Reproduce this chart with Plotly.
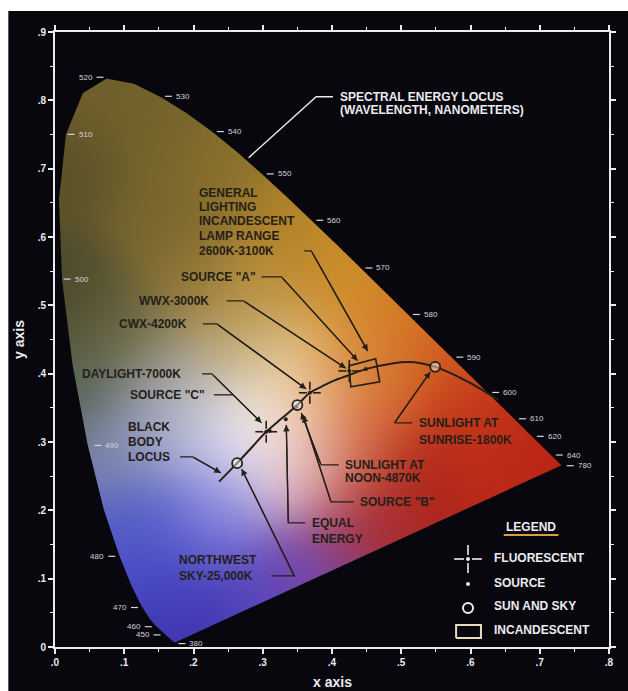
import numpy as np
import plotly.graph_objects as go

# ---------------------------------------------------------------- data
# CIE 1931 spectral locus: wavelength (nm) and chromaticity x, y
wavelengths = [380, 400, 420, 440, 450, 460, 465, 470, 475, 480, 485, 490, 495, 500,
               505, 510, 515, 520, 525, 530, 535, 540, 545, 550, 555, 560, 565, 570,
               575, 580, 585, 590, 595, 600, 605, 610, 620, 630, 640, 650, 700, 780]
locus_x = [0.1741, 0.1733, 0.1714, 0.1644, 0.1566, 0.1440, 0.1355, 0.1241, 0.1096, 0.0913,
           0.0687, 0.0454, 0.0235, 0.0082, 0.0039, 0.0139, 0.0389, 0.0743, 0.1142, 0.1547,
           0.1929, 0.2296, 0.2658, 0.3016, 0.3373, 0.3731, 0.4087, 0.4441, 0.4788, 0.5125,
           0.5448, 0.5752, 0.6029, 0.6270, 0.6482, 0.6658, 0.6915, 0.7079, 0.7190, 0.7260,
           0.7347, 0.7347]
locus_y = [0.0050, 0.0048, 0.0051, 0.0109, 0.0177, 0.0297, 0.0399, 0.0578, 0.0868, 0.1327,
           0.2007, 0.2950, 0.4127, 0.5384, 0.6548, 0.7502, 0.8120, 0.8338, 0.8262, 0.8059,
           0.7816, 0.7543, 0.7243, 0.6923, 0.6589, 0.6245, 0.5896, 0.5547, 0.5202, 0.4866,
           0.4544, 0.4242, 0.3965, 0.3725, 0.3514, 0.3340, 0.3083, 0.2920, 0.2809, 0.2740,
           0.2653, 0.2653]

# wavelengths annotated along the locus
labelled_wl = [380, 450, 460, 470, 480, 490, 500, 510, 520, 530, 540, 550, 560, 570,
               580, 590, 600, 610, 620, 640, 780]

# black body (Planckian) locus
bb_x = [0.237, 0.263, 0.285, 0.305, 0.328, 0.350, 0.368, 0.385, 0.401, 0.425, 0.450,
        0.487, 0.510, 0.530, 0.549, 0.575, 0.600, 0.622, 0.640]
bb_y = [0.242, 0.269, 0.293, 0.315, 0.335, 0.354, 0.372, 0.381, 0.389, 0.398, 0.407,
        0.415, 0.417, 0.415, 0.410, 0.399, 0.386, 0.373, 0.362]

# fluorescent lamps: daylight 7000K, CWX 4200K, WWX 3000K
fluor_names = ["DAYLIGHT-7000K", "CWX-4200K", "WWX-3000K"]
fluor_x = [0.305, 0.368, 0.425]
fluor_y = [0.315, 0.372, 0.404]

# standard sources A, B, C and equal energy E
source_names = ["A", "B", "C", "E"]
source_x = [0.4490, 0.3484, 0.3101, 0.3333]
source_y = [0.4070, 0.3516, 0.3162, 0.3333]

# sun and sky: northwest sky 25000K, noon 4870K, sunrise 1800K
sun_names = ["NW SKY 25000K", "NOON 4870K", "SUNRISE 1800K"]
sun_x = [0.263, 0.350, 0.549]
sun_y = [0.269, 0.354, 0.410]

# incandescent lamp range 2600K-3100K (corners)
lamp_x = [0.4244, 0.4631, 0.4688, 0.4272]
lamp_y = [0.4114, 0.4217, 0.3880, 0.3807]

# axis ticks
x_ticks = [0.0, 0.1, 0.2, 0.3, 0.4, 0.5, 0.6, 0.7, 0.8]
x_ticktext = [".0", ".1", ".2", ".3", ".4", ".5", ".6", ".7", ".8"]
y_ticks = [0.0, 0.1, 0.2, 0.3, 0.4, 0.5, 0.6, 0.7, 0.8, 0.9]
y_ticktext = ["0", ".1", ".2", ".3", ".4", ".5", ".6", ".7", ".8", ".9"]

# colour anchors for the painted gamut (x, y, r, g, b)
paint = [
    (0.07, 0.82, 112, 96, 44), (0.03, 0.70, 92, 82, 40), (0.15, 0.74, 118, 100, 44),
    (0.24, 0.69, 138, 112, 44), (0.33, 0.62, 178, 132, 42), (0.42, 0.55, 205, 140, 40),
    (0.50, 0.47, 212, 120, 35), (0.57, 0.41, 207, 85, 30), (0.63, 0.36, 197, 55, 25),
    (0.70, 0.29, 187, 36, 22), (0.60, 0.30, 190, 45, 25), (0.52, 0.25, 172, 36, 28),
    (0.44, 0.19, 165, 45, 55), (0.36, 0.12, 120, 70, 170), (0.28, 0.07, 85, 70, 190),
    (0.20, 0.04, 60, 50, 170), (0.16, 0.10, 70, 70, 195), (0.12, 0.18, 80, 90, 200),
    (0.22, 0.17, 110, 110, 215), (0.25, 0.23, 165, 165, 230), (0.09, 0.28, 120, 130, 170),
    (0.05, 0.38, 85, 98, 82), (0.03, 0.52, 75, 74, 44), (0.10, 0.47, 105, 100, 62),
    (0.16, 0.40, 150, 150, 135), (0.15, 0.32, 170, 175, 215), (0.22, 0.35, 210, 210, 230),
    (0.30, 0.32, 248, 248, 250), (0.33, 0.30, 245, 235, 240), (0.36, 0.25, 220, 170, 190),
    (0.40, 0.31, 225, 150, 110), (0.45, 0.30, 205, 80, 45), (0.37, 0.37, 235, 185, 130),
    (0.32, 0.41, 232, 215, 170), (0.25, 0.44, 185, 162, 112), (0.20, 0.53, 150, 120, 55),
    (0.15, 0.62, 120, 102, 46), (0.30, 0.50, 190, 145, 60), (0.42, 0.43, 215, 150, 60),
    (0.47, 0.38, 215, 110, 45),
]

# ---------------------------------------------------------------- geometry helpers
W, H = 628, 691
ML, MR, MT, MB = 55, 15, 32, 44
XR, YR = [0, 0.8], [0, 0.9]
PX = (XR[1] - XR[0]) / (W - ML - MR)   # data units per pixel, x
PY = (YR[1] - YR[0]) / (H - MT - MB)   # data units per pixel, y

BG = "#07070d"
DARK = "#251f1a"
LIGHT = "#ecebf0"
FONT = "Liberation Sans, Arial, sans-serif"


def inside_polygon(px, py, vx, vy):
    res = np.zeros(px.shape, dtype=bool)
    n = len(vx)
    j = n - 1
    for i in range(n):
        xi, yi, xj, yj = vx[i], vy[i], vx[j], vy[j]
        if yi != yj:
            cross = ((yi > py) != (yj > py)) & (px < (xj - xi) * (py - yi) / (yj - yi) + xi)
            res ^= cross
        j = i
    return res


# ---------------------------------------------------------------- gamut image
step = 0.002
gx = np.arange(0.0, 0.75, step)
gy = np.arange(0.0, 0.85, step)
GX, GY = np.meshgrid(gx, gy)

# supersampled coverage for soft edges
cover = np.zeros(GX.shape)
subs = [-step / 3, 0.0, step / 3]
for ox in subs:
    for oy in subs:
        cover += inside_polygon(GX + ox, GY + oy, locus_x, locus_y)
cover /= len(subs) ** 2

P = np.array(paint, dtype=float)
sigma = 0.052
d2 = (GX[..., None] - P[:, 0]) ** 2 + (GY[..., None] - P[:, 1]) ** 2
d2 -= d2.min(axis=2, keepdims=True)
wts = np.exp(-d2 / (2 * sigma ** 2))
rgb = np.einsum("hwn,nc->hwc", wts, P[:, 2:5]) / wts.sum(axis=2)[..., None]
rgb = np.clip(np.round(rgb), 0, 255).astype(int)

z = []
for r in range(GX.shape[0]):
    row = []
    for c in range(GX.shape[1]):
        a = cover[r, c]
        if a <= 0:
            row.append([0, 0, 0, 0])
        else:
            row.append([int(rgb[r, c, 0]), int(rgb[r, c, 1]), int(rgb[r, c, 2]),
                        1 if a >= 1 else round(float(a), 2)])
    z.append(row)

fig = go.Figure()
fig.add_trace(go.Image(z=z, colormodel="rgba", x0=0, dx=step, y0=0, dy=step, hoverinfo="skip"))

# background-coloured rim that trims the stepped image edge
fig.add_trace(go.Scatter(x=locus_x + [locus_x[0]], y=locus_y + [locus_y[0]], mode="lines",
                         line=dict(color=BG, width=2.6), hoverinfo="skip", showlegend=False))

# ---------------------------------------------------------------- wavelength ticks
left_side = {450, 460, 470, 480, 520}
tick_x, tick_y = [], []
annotations = []
for wl in labelled_wl:
    i = wavelengths.index(wl)
    lx, ly = locus_x[i], locus_y[i]
    sgn = -1 if wl in left_side else 1
    gap = 8 if wl == 490 else 3
    x0 = lx + sgn * gap * PX
    x1 = lx + sgn * (gap + 7) * PX
    tick_x += [x0, x1, None]
    tick_y += [ly, ly, None]
    annotations.append(dict(x=x1 + sgn * 2 * PX, y=ly, text=str(wl), showarrow=False,
                            xanchor="left" if sgn > 0 else "right", yanchor="middle",
                            font=dict(family=FONT, size=8, color="#d6d4d8")))
fig.add_trace(go.Scatter(x=tick_x, y=tick_y, mode="lines", hoverinfo="skip",
                         line=dict(color="#d6d4d8", width=1.2), showlegend=False))

# ---------------------------------------------------------------- black body locus
fig.add_trace(go.Scatter(x=bb_x, y=bb_y, mode="lines", line=dict(color=DARK, width=2, shape="spline"),
                         hoverinfo="skip", showlegend=False))


def fluorescent_glyph(cx, cy, r0, r1):
    xs, ys = [], []
    for dx, dy in [(1, 0), (-1, 0), (0, 1), (0, -1)]:
        xs += [cx + dx * r0 * PX, cx + dx * r1 * PX, None]
        ys += [cy + dy * r0 * PY, cy + dy * r1 * PY, None]
    return xs, ys


def add_fluorescent(xs_c, ys_c, color, r0, r1, dot):
    gxs, gys = [], []
    for cx, cy in zip(xs_c, ys_c):
        a, b = fluorescent_glyph(cx, cy, r0, r1)
        gxs += a
        gys += b
    fig.add_trace(go.Scatter(x=gxs, y=gys, mode="lines", line=dict(color=color, width=1.6),
                             hoverinfo="skip", showlegend=False))
    fig.add_trace(go.Scatter(x=xs_c, y=ys_c, mode="markers", hoverinfo="skip", showlegend=False,
                             marker=dict(symbol="circle", size=dot, color=color)))


add_fluorescent(fluor_x, fluor_y, DARK, 3, 11, 4)

# sources
fig.add_trace(go.Scatter(x=source_x, y=source_y, mode="markers", hoverinfo="skip", showlegend=False,
                         marker=dict(symbol="circle", size=4, color=DARK)))

# sun and sky
fig.add_trace(go.Scatter(x=sun_x, y=sun_y, mode="markers", hoverinfo="skip", showlegend=False,
                         marker=dict(symbol="circle", size=10, color="rgba(255,250,245,0.45)",
                                     line=dict(color=DARK, width=1.8))))

# incandescent range
fig.add_trace(go.Scatter(x=lamp_x + [lamp_x[0]], y=lamp_y + [lamp_y[0]], mode="lines",
                         line=dict(color=DARK, width=1.6), hoverinfo="skip", showlegend=False))

# ---------------------------------------------------------------- labels and leaders
dark_labels = [
    ("GENERAL", 0.2050, 0.6647), ("LIGHTING", 0.2050, 0.6442), ("INCANDESCENT", 0.2050, 0.6237),
    ("LAMP RANGE", 0.2050, 0.6018), ("2600K-3100K", 0.2050, 0.5798),
    ('SOURCE "A"', 0.1792, 0.5417), ("WWX-3000K", 0.1190, 0.5066), ("CWX-4200K", 0.0889, 0.4729),
    ("DAYLIGHT-7000K", 0.0358, 0.3997), ('SOURCE "C"', 0.1047, 0.3690),
    ("BLACK", 0.1032, 0.3221), ("BODY", 0.1032, 0.3001), ("LOCUS", 0.1032, 0.2782),
    ("NORTHWEST", 0.1763, 0.1274), ("SKY-25,000K", 0.1763, 0.1040),
    ("EQUAL", 0.3685, 0.1816), ("ENERGY", 0.3685, 0.1581),
    ("SUNLIGHT AT", 0.4158, 0.2665), ("NOON-4870K", 0.4158, 0.2474),
    ('SOURCE "B"', 0.4373, 0.2123),
    ("SUNLIGHT AT", 0.5233, 0.3280), ("SUNRISE-1800K", 0.5233, 0.3031),
]
for txt, x, y in dark_labels:
    annotations.append(dict(x=x, y=y, text=txt, showarrow=False, xanchor="left", yanchor="middle",
                            font=dict(family=FONT, size=12, color=DARK, weight="bold")))

leaders = [
    [(0.360, 0.5798), (0.370, 0.5798), (0.4516, 0.4330)],
    [(0.298, 0.5417), (0.327, 0.5417), (0.437, 0.4190)],
    [(0.248, 0.5066), (0.272, 0.5066), (0.420, 0.4080)],
    [(0.2136, 0.4729), (0.2337, 0.4729), (0.3627, 0.3777)],
    [(0.2122, 0.3997), (0.2265, 0.3997), (0.2982, 0.3280)],
    [(0.2294, 0.3690), (0.2572, 0.3690)],
    [(0.1806, 0.2782), (0.1989, 0.2782), (0.2394, 0.2548)],
    [(0.3126, 0.1040), (0.3455, 0.1040), (0.2695, 0.2606)],
    [(0.3613, 0.1816), (0.3369, 0.1816), (0.3340, 0.3250)],
    [(0.4100, 0.2665), (0.3842, 0.2665), (0.3556, 0.3426)],
    [(0.4315, 0.2123), (0.3986, 0.2123), (0.3584, 0.3382)],
    [(0.5161, 0.3280), (0.4903, 0.3280), (0.5419, 0.4026)],
]
lx_all, ly_all = [], []
for pts in leaders:
    lx_all += [p[0] for p in pts] + [None]
    ly_all += [p[1] for p in pts] + [None]
    if len(pts) >= 3:
        (ax_, ay_), (x_, y_) = pts[-2], pts[-1]
        annotations.append(dict(x=x_, y=y_, ax=ax_, ay=ay_, axref="x", ayref="y", xref="x", yref="y",
                                text="", showarrow=True, arrowhead=2, arrowsize=1.0, arrowwidth=1.3,
                                arrowcolor=DARK, standoff=0))
fig.add_trace(go.Scatter(x=lx_all, y=ly_all, mode="lines", line=dict(color=DARK, width=1.3),
                         hoverinfo="skip", showlegend=False))

# spectral locus callout (white)
spec_leader = [(0.4014, 0.8053), (0.3771, 0.8053), (0.2796, 0.7160)]
fig.add_trace(go.Scatter(x=[p[0] for p in spec_leader], y=[p[1] for p in spec_leader], mode="lines",
                         line=dict(color=LIGHT, width=1.4), hoverinfo="skip", showlegend=False))
for txt, y in [("SPECTRAL ENERGY LOCUS", 0.8053), ("(WAVELENGTH, NANOMETERS)", 0.7862)]:
    annotations.append(dict(x=0.4086, y=y, text=txt, showarrow=False, xanchor="left", yanchor="middle",
                            font=dict(family=FONT, size=12, color=LIGHT, weight="bold")))

# ---------------------------------------------------------------- legend box
leg_sym_x = 0.5964
leg_text_x = 0.6308
add_fluorescent([leg_sym_x], [0.1288], LIGHT, 4, 14, 4)
fig.add_trace(go.Scatter(x=[leg_sym_x], y=[0.0922], mode="markers", hoverinfo="skip", showlegend=False,
                         marker=dict(symbol="circle", size=4, color=LIGHT)))
fig.add_trace(go.Scatter(x=[leg_sym_x], y=[0.0571], mode="markers", hoverinfo="skip", showlegend=False,
                         marker=dict(symbol="circle-open", size=10, color=LIGHT, line=dict(width=2))))
rx0, rx1, ry0, ry1 = 0.5792, 0.6151, 0.0132, 0.0322
fig.add_trace(go.Scatter(x=[rx0, rx1, rx1, rx0, rx0], y=[ry0, ry0, ry1, ry1, ry0], mode="lines",
                         line=dict(color="#e6dcc0", width=2), hoverinfo="skip", showlegend=False))
for txt, y in [("FLUORESCENT", 0.1303), ("SOURCE", 0.0937), ("SUN AND SKY", 0.0600),
               ("INCANDESCENT", 0.0249)]:
    annotations.append(dict(x=leg_text_x, y=y, text=txt, showarrow=False, xanchor="left",
                            yanchor="middle", font=dict(family=FONT, size=12, color=LIGHT, weight="bold")))
annotations.append(dict(x=0.648, y=0.1757, text="LEGEND", showarrow=False, xanchor="left",
                        yanchor="middle", font=dict(family=FONT, size=12, color=LIGHT, weight="bold")))
fig.add_trace(go.Scatter(x=[0.648, 0.727], y=[0.164, 0.164], mode="lines",
                         line=dict(color="#d9a040", width=2), hoverinfo="skip", showlegend=False))

# axis titles
annotations.append(dict(x=0.5, y=-0.057, xref="paper", yref="paper", text="x axis", showarrow=False,
                        xanchor="center", yanchor="middle",
                        font=dict(family=FONT, size=14, color=LIGHT, weight="bold")))
annotations.append(dict(x=-0.066, y=0.5, xref="paper", yref="paper", text="y axis", showarrow=False,
                        textangle=-90, xanchor="center", yanchor="middle",
                        font=dict(family=FONT, size=14, color=LIGHT, weight="bold")))

axis_common = dict(showgrid=False, zeroline=False, showline=True, linecolor=LIGHT, linewidth=2,
                   ticks="outside", ticklen=5, tickwidth=1.5, tickcolor=LIGHT, mirror="ticks",
                   tickfont=dict(family=FONT, size=10, color=LIGHT, weight="bold"),
                   minor=dict(dtick=0.05, tick0=0, ticks="outside", ticklen=3, tickcolor=LIGHT,
                              tickwidth=1.2, showgrid=False))

fig.update_layout(
    width=W, height=H, autosize=False,
    margin=dict(l=ML, r=MR, t=MT, b=MB),
    paper_bgcolor=BG, plot_bgcolor=BG,
    showlegend=False,
    xaxis=dict(range=XR, tickvals=x_ticks, ticktext=x_ticktext, constrain="range", **axis_common),
    yaxis=dict(range=YR, tickvals=y_ticks, ticktext=y_ticktext, scaleanchor=False, **axis_common),
    annotations=annotations,
    shapes=[
        dict(type="rect", xref="paper", yref="paper", x0=-0.12, x1=1.1, y0=1 + 21 / 615, y1=1.07,
             fillcolor="white", line=dict(width=0), layer="above"),
        dict(type="rect", xref="paper", yref="paper", x0=-0.12, x1=-(47 / 558), y0=-0.1, y1=1.07,
             fillcolor="white", line=dict(width=0), layer="above"),
    ],
)

fig.write_html("out.html")
